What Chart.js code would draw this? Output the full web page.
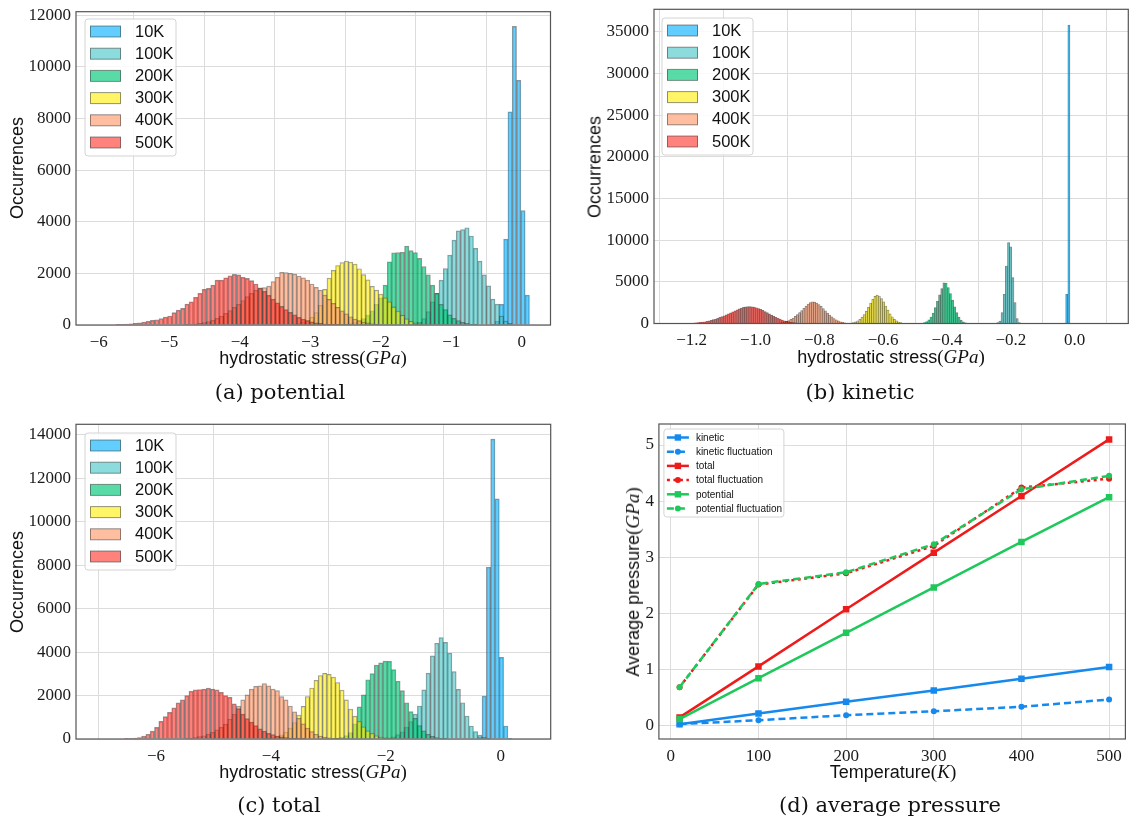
<!DOCTYPE html>
<html>
<head>
<meta charset="utf-8">
<title>hydrostatic stress</title>
<script src="https://cdn.jsdelivr.net/npm/chart.js"></script>
<style>
  html, body { margin: 0; padding: 0; background: #fff; }
  #fig { position: relative; width: 1130px; height: 820px; overflow: hidden;
         font-family: "Liberation Sans", Arial, sans-serif; color: #111; }
  #fig canvas { position: absolute; }
  .t { position: absolute; transform: translate(-50%, -50%); white-space: nowrap; }
  .ax { font-size: 18px; }
  .ax .m { font-family: "Liberation Serif", serif; font-size: 19px; }
  .rot { transform: translate(-50%, -50%) rotate(-90deg); }
  .cap { font-family: "DejaVu Serif", serif; font-size: 21px; }
</style>
</head>
<body>
<div id="fig">
  <canvas id="cPot" width="560" height="360" style="left:0;top:0"></canvas>
  <canvas id="cKin" width="570" height="360" style="left:560px;top:0"></canvas>
  <canvas id="cTot" width="560" height="360" style="left:0;top:410px"></canvas>
  <canvas id="cAvg" width="570" height="360" style="left:560px;top:410px"></canvas>

  <div class="t ax rot" style="left:17px;top:168px">Occurrences</div>
  <div class="t ax" style="left:313px;top:358px">hydrostatic stress<span class="m">(<i>GPa</i>)</span></div>
  <div class="t cap" style="left:280px;top:392px">(a) potential</div>

  <div class="t ax rot" style="left:595px;top:167px">Occurrences</div>
  <div class="t ax" style="left:891px;top:357px">hydrostatic stress<span class="m">(<i>GPa</i>)</span></div>
  <div class="t cap" style="left:860px;top:392px">(b) kinetic</div>

  <div class="t ax rot" style="left:17px;top:582px">Occurrences</div>
  <div class="t ax" style="left:313px;top:772px">hydrostatic stress<span class="m">(<i>GPa</i>)</span></div>
  <div class="t cap" style="left:279px;top:805px">(c) total</div>

  <div class="t ax rot" style="left:633px;top:582px">Average pressure<span class="m">(<i>GPa</i>)</span></div>
  <div class="t ax" style="left:893px;top:772px">Temperature<span class="m">(<i>K</i>)</span></div>
  <div class="t cap" style="left:890px;top:805px">(d) average pressure</div>
</div>

<script>
// ---------------- data ----------------
const tempLabels = ['10K', '100K', '200K', '300K', '400K', '500K'];

// (a) potential: shared bins, first edge -6.0, width 0.0611
const potBin = [-6.0, 0.0611];
const potFirstBin = [91, 72, 56, 44, 20, 4];
const pot10K = [40, 150, 800, 3330, 8260, 11570, 9480, 4430, 1160];
const pot100K = [20, 40, 100, 250, 520, 900, 1230, 1740, 2190, 2710, 3290, 3650, 3700, 3770, 3450, 2970,
  2480, 1940, 1520, 1000, 810, 350, 150, 60];
const pot200K = [15, 30, 60, 100, 160, 250, 380, 550, 800, 1050, 1550, 2450, 2800, 2810, 2820, 3060, 2880,
  2810, 2580, 2260, 1940, 1550, 1230, 800, 600, 390, 260, 170, 100, 60, 30, 15];
const pot300K = [20, 40, 70, 115, 180, 300, 480, 760, 1380, 1820, 2120, 2300, 2420, 2480, 2440, 2360, 2180,
  1950, 1750, 1500, 1350, 1200, 1050, 900, 700, 540, 380, 240, 140, 80, 40, 20];
const pot400K = [10, 20, 40, 60, 90, 130, 190, 260, 340, 450, 560, 680, 800, 950, 1100, 1230, 1350, 1440,
  1450, 1510, 1680, 1850, 2040, 2030, 2000, 1970, 1900, 1830, 1740, 1590, 1460, 1350, 1160, 990, 840, 680,
  550, 430, 320, 230, 170, 115, 80, 50, 25];
const pot500K = [10, 25, 40, 50, 65, 80, 115, 140, 180, 205, 245, 310, 350, 480, 580, 645, 810, 900, 1070,
  1225, 1380, 1420, 1550, 1740, 1740, 1830, 1910, 1960, 1940, 1850, 1810, 1720, 1590, 1420, 1300, 1150,
  1000, 860, 720, 600, 490, 390, 300, 230, 170, 120, 85, 60, 40, 25, 15, 8];
const potXTicks = [-6, -5, -4, -3, -2, -1, 0];
const potYTicks = [0, 2000, 4000, 6000, 8000, 10000, 12000];

// (b) kinetic: first edge -1.25, width 0.00675
const kinBin = [-1.25, 0.00675];
const kinFirstBin = [181, 149, 114, 80, 46, 5];
const kin10K = [3500, 35800];
const kin100K = [100, 300, 1300, 3500, 6900, 9700, 9200, 5500, 2500, 600, 100];
const kin200K = [40, 100, 220, 430, 780, 1250, 1900, 2650, 3450, 4200, 4880, 4850, 4300, 3600, 2800, 2000,
  1300, 780, 420, 200, 90, 35];
const kin300K = [30, 60, 110, 190, 320, 500, 760, 1080, 1480, 1950, 2450, 2900, 3250, 3400, 3300, 3000,
  2600, 2100, 1600, 1150, 800, 520, 320, 180, 100, 50, 20];
const kin400K = [20, 40, 70, 110, 170, 250, 360, 500, 660, 850, 1060, 1300, 1560, 1820, 2080, 2330, 2500,
  2600, 2560, 2450, 2280, 2050, 1800, 1530, 1260, 1010, 790, 600, 440, 310, 210, 140, 90, 55, 30, 15];
const kin500K = [20, 30, 45, 60, 80, 105, 135, 170, 215, 265, 325, 390, 465, 545, 635, 730, 830, 935, 1045,
  1160, 1280, 1400, 1520, 1640, 1750, 1850, 1930, 1990, 2020, 2030, 2010, 1960, 1890, 1800, 1690, 1570,
  1440, 1300, 1160, 1020, 880, 750, 630, 520, 420, 330, 255, 190, 140, 100, 70, 45, 30, 18, 10];
const kinXTicks = [-1.2, -1.0, -0.8, -0.6, -0.4, -0.2, 0.0];
const kinYTicks = [0, 5000, 10000, 15000, 20000, 25000, 30000, 35000];

// (c) total: first edge -7.0, width 0.075
const totBin = [-7.0, 0.075];
const totFirstBin = [88, 66, 54, 38, 20, 6];
const tot10K = [100, 1980, 7910, 13810, 11060, 3760, 600, 30];
const tot100K = [20, 50, 100, 200, 330, 550, 800, 1150, 1520, 2260, 3030, 3830, 4410, 4670, 4450, 3950,
  3100, 2290, 1670, 1060, 600, 340, 180, 80, 30];
const tot200K = [20, 40, 80, 160, 300, 700, 1480, 2030, 2730, 3010, 3400, 3510, 3590, 3580, 3200, 2660,
  2230, 1670, 1260, 950, 620, 380, 220, 120, 60, 30, 15];
const tot300K = [15, 30, 60, 110, 190, 320, 500, 760, 1100, 1500, 1950, 2350, 2700, 2920, 3020, 2980, 2850,
  2600, 2250, 1800, 1380, 1050, 800, 560, 380, 250, 150, 90, 50, 25, 10];
const tot400K = [20, 30, 60, 110, 150, 230, 310, 420, 540, 690, 920, 1150, 1520, 1800, 2030, 2300, 2420,
  2450, 2550, 2450, 2300, 2230, 1950, 1800, 1520, 1250, 950, 700, 500, 340, 220, 140, 85, 50, 25, 10];
const tot500K = [10, 20, 40, 70, 130, 220, 360, 540, 815, 1030, 1230, 1430, 1660, 1800, 2000, 2200, 2260,
  2280, 2300, 2340, 2300, 2260, 2150, 2000, 1920, 1620, 1400, 1150, 940, 780, 620, 470, 360, 260, 200, 140,
  100, 70, 45, 30, 20, 10];
const totXTicks = [-6, -4, -2, 0];
const totYTicks = [0, 2000, 4000, 6000, 8000, 10000, 12000, 14000];

// (d) average pressure
const temps = [10, 100, 200, 300, 400, 500];
const kinetic = [0.02, 0.21, 0.42, 0.62, 0.83, 1.04];
const kineticFluct = [0.02, 0.09, 0.18, 0.25, 0.33, 0.46];
const total = [0.14, 1.05, 2.07, 3.08, 4.09, 5.10];
const totalFluct = [0.68, 2.51, 2.71, 3.20, 4.24, 4.40];
const potential = [0.11, 0.84, 1.65, 2.46, 3.27, 4.07];
const potentialFluct = [0.68, 2.52, 2.73, 3.23, 4.21, 4.45];
const avgXTicks = [0, 100, 200, 300, 400, 500];
const avgYTicks = [0, 1, 2, 3, 4, 5];

// ---------------- styles ----------------
const histFill = ['rgba(0,176,255,0.62)', 'rgba(64,196,200,0.6)', 'rgba(0,200,120,0.65)',
  'rgba(255,238,0,0.6)', 'rgba(255,150,100,0.62)', 'rgba(255,40,30,0.58)'];
const histEdge = 'rgba(45,45,45,0.5)';
const BLUE = '#1589ee', RED = '#ee1b1b', GREEN = '#1ec85a';
const gridColor = '#dcdcdc';
const tickFont = (size) => ({ family: '"Liberation Serif", "Times New Roman", serif', size });
const minus = (v) => String(v).replace('-', '\u2212');

// ---------------- plugins ----------------
const framePlugin = {
  id: 'frame',
  afterDatasetsDraw(chart) {
    const { ctx, chartArea: a } = chart;
    ctx.save();
    ctx.strokeStyle = '#555';
    ctx.lineWidth = 1.2;
    ctx.strokeRect(a.left, a.top, a.right - a.left, a.bottom - a.top);
    ctx.restore();
  }
};

function roundBox(ctx, x, y, w, h, r) {
  ctx.beginPath();
  ctx.moveTo(x + r, y);
  ctx.arcTo(x + w, y, x + w, y + h, r);
  ctx.arcTo(x + w, y + h, x, y + h, r);
  ctx.arcTo(x, y + h, x, y, r);
  ctx.arcTo(x, y, x + w, y, r);
  ctx.closePath();
}

const histLegend = {
  id: 'histLegend',
  afterDraw(chart, args, opts) {
    const { ctx, chartArea: a } = chart;
    const x0 = a.left + opts.dx, y0 = a.top + opts.dy;
    ctx.save();
    roundBox(ctx, x0, y0, 91, 137, 3);
    ctx.fillStyle = 'rgba(255,255,255,0.85)';
    ctx.fill();
    ctx.strokeStyle = '#d4d4d4';
    ctx.lineWidth = 1;
    ctx.stroke();
    ctx.font = '16.5px "Liberation Sans", Arial, sans-serif';
    ctx.textBaseline = 'middle';
    chart.data.datasets.forEach((ds, i) => {
      const cy = y0 + 12.5 + i * 22.2;
      ctx.fillStyle = ds.backgroundColor;
      ctx.fillRect(x0 + 5, cy - 5.5, 31, 11);
      ctx.strokeStyle = 'rgba(60,60,60,0.55)';
      ctx.strokeRect(x0 + 5.5, cy - 5.5, 30, 11);
      ctx.fillStyle = '#111';
      ctx.fillText(ds.label, x0 + 50, cy + 0.5);
    });
    ctx.restore();
  }
};

const lineLegend = {
  id: 'lineLegend',
  afterDraw(chart, args, opts) {
    const { ctx, chartArea: a } = chart;
    const x0 = a.left + opts.dx, y0 = a.top + opts.dy;
    ctx.save();
    roundBox(ctx, x0, y0, 120, 88, 3);
    ctx.fillStyle = 'rgba(255,255,255,0.85)';
    ctx.fill();
    ctx.strokeStyle = '#d4d4d4';
    ctx.lineWidth = 1;
    ctx.stroke();
    ctx.font = '10px "Liberation Sans", Arial, sans-serif';
    ctx.textBaseline = 'middle';
    chart.data.datasets.forEach((ds, i) => {
      const cy = y0 + 8.5 + i * 14.2;
      ctx.strokeStyle = ds.borderColor;
      ctx.lineWidth = 2.5;
      ctx.setLineDash(ds.borderDash || []);
      ctx.beginPath();
      ctx.moveTo(x0 + 3, cy);
      ctx.lineTo(x0 + 25, cy);
      ctx.stroke();
      ctx.setLineDash([]);
      ctx.fillStyle = ds.borderColor;
      if (ds.pointStyle === 'rect') ctx.fillRect(x0 + 14 - 3.2, cy - 3.2, 6.4, 6.4);
      else { ctx.beginPath(); ctx.arc(x0 + 14, cy, 3, 0, Math.PI * 2); ctx.fill(); }
      ctx.fillStyle = '#111';
      ctx.fillText(ds.label, x0 + 32, cy + 0.5);
    });
    ctx.restore();
  }
};

// ---------------- axes ----------------
function axisX(min, max, ticks, fmt, size) {
  return {
    type: 'linear', min, max, offset: false,
    grid: { color: gridColor, lineWidth: 1, drawTicks: false },
    border: { display: false },
    ticks: { padding: 7, color: '#1a1a1a', font: tickFont(size), callback: fmt, maxRotation: 0, autoSkip: false },
    afterBuildTicks: (s) => { s.ticks = ticks.map(v => ({ value: v })); },
    afterFit: (s) => { s.height = 25; s.paddingLeft = 0; s.paddingRight = 0; }
  };
}

function axisY(min, max, ticks, fmt, width, size) {
  return {
    type: 'linear', min, max,
    grid: { color: gridColor, lineWidth: 1, drawTicks: false },
    border: { display: false },
    ticks: { padding: 5, color: '#1a1a1a', font: tickFont(size), callback: fmt, autoSkip: false },
    afterBuildTicks: (s) => { s.ticks = ticks.map(v => ({ value: v })); },
    afterFit: (s) => { s.width = width; s.paddingTop = 0; s.paddingBottom = 0; }
  };
}

// ---------------- histogram panels ----------------
function histChart(id, o) {
  const datasets = o.series.map((counts, i) => ({
    label: tempLabels[i],
    data: counts.map((c, j) => ({ x: o.bin[0] + o.bin[1] * (o.first[i] + j + 0.5), y: c })),
    backgroundColor: histFill[i],
    borderColor: o.edge,
    borderWidth: o.edgeW,
    grouped: false,
    barPercentage: 1,
    categoryPercentage: 1,
    order: 5 - i
  }));
  return new Chart(document.getElementById(id), {
    type: 'bar',
    data: { datasets },
    options: {
      responsive: false,
      animation: false,
      layout: { padding: o.pad },
      plugins: { legend: { display: false }, tooltip: { enabled: false }, histLegend: o.legend },
      scales: {
        x: axisX(o.xRange[0], o.xRange[1], o.xTicks, o.xFmt, 17),
        y: axisY(0, o.yMax, o.yTicks, (v) => String(v), o.yW, 17)
      }
    },
    plugins: [framePlugin, histLegend]
  });
}

histChart('cPot', {
  bin: potBin, first: potFirstBin,
  series: [pot10K, pot100K, pot200K, pot300K, pot400K, pot500K],
  xRange: [-6.322, 0.4085], xTicks: potXTicks, xFmt: (v) => minus(v),
  yMax: 12140, yTicks: potYTicks, yW: 76, edge: histEdge, edgeW: 0.8,
  pad: { left: 0, top: 11.7, right: 9.5, bottom: 10 },
  legend: { dx: 9, dy: 7.3 }
});

histChart('cKin', {
  bin: kinBin, first: kinFirstBin,
  series: [kin10K, kin100K, kin200K, kin300K, kin400K, kin500K],
  xRange: [-1.318, 0.168], xTicks: kinXTicks, xFmt: (v) => minus(Number(v).toFixed(1)),
  yMax: 37690, yTicks: kinYTicks, yW: 94, edge: 'rgba(40,40,40,0.6)', edgeW: 0.55,
  pad: { left: 0, top: 9.3, right: 1.7, bottom: 11.5 },
  legend: { dx: 8, dy: 8.7 }
});

histChart('cTot', {
  bin: totBin, first: totFirstBin,
  series: [tot10K, tot100K, tot200K, tot300K, tot400K, tot500K],
  xRange: [-7.391, 0.8696], xTicks: totXTicks, xFmt: (v) => minus(v),
  yMax: 14490, yTicks: totYTicks, yW: 76, edge: histEdge, edgeW: 0.8,
  pad: { left: 0, top: 14.3, right: 9.3, bottom: 6 },
  legend: { dx: 9, dy: 8.7 }
});

// ---------------- (d) average pressure ----------------
const avgSeries = [
  ['kinetic', kinetic, BLUE, [], 'rect'],
  ['kinetic fluctuation', kineticFluct, BLUE, [7, 4], 'circle'],
  ['total', total, RED, [], 'rect'],
  ['total fluctuation', totalFluct, RED, [3, 3.5], 'circle'],
  ['potential', potential, GREEN, [], 'rect'],
  ['potential fluctuation', potentialFluct, GREEN, [7, 4], 'circle']
];

new Chart(document.getElementById('cAvg'), {
  type: 'line',
  data: {
    datasets: avgSeries.map(([label, vals, color, dash, pt], i) => ({
      label,
      data: temps.map((t, j) => ({ x: t, y: vals[j] })),
      borderColor: color,
      backgroundColor: color,
      borderWidth: 2.5,
      borderDash: dash,
      pointStyle: pt,
      pointRadius: pt === 'rect' ? 4.6 : 3,
      pointBorderWidth: 0,
      pointBackgroundColor: color,
      tension: 0,
      order: 5 - i
    }))
  },
  options: {
    responsive: false,
    animation: false,
    layout: { padding: { left: 0, top: 14, right: 2, bottom: 6 } },
    plugins: { legend: { display: false }, tooltip: { enabled: false }, lineLegend: { dx: 5, dy: 5 } },
    scales: {
      x: axisX(-13.6, 518.6, avgXTicks, (v) => String(v), 17),
      y: axisY(-0.245, 5.375, avgYTicks, (v) => String(v), 98.9, 17)
    }
  },
  plugins: [framePlugin, lineLegend]
});
</script>
</body>
</html>
